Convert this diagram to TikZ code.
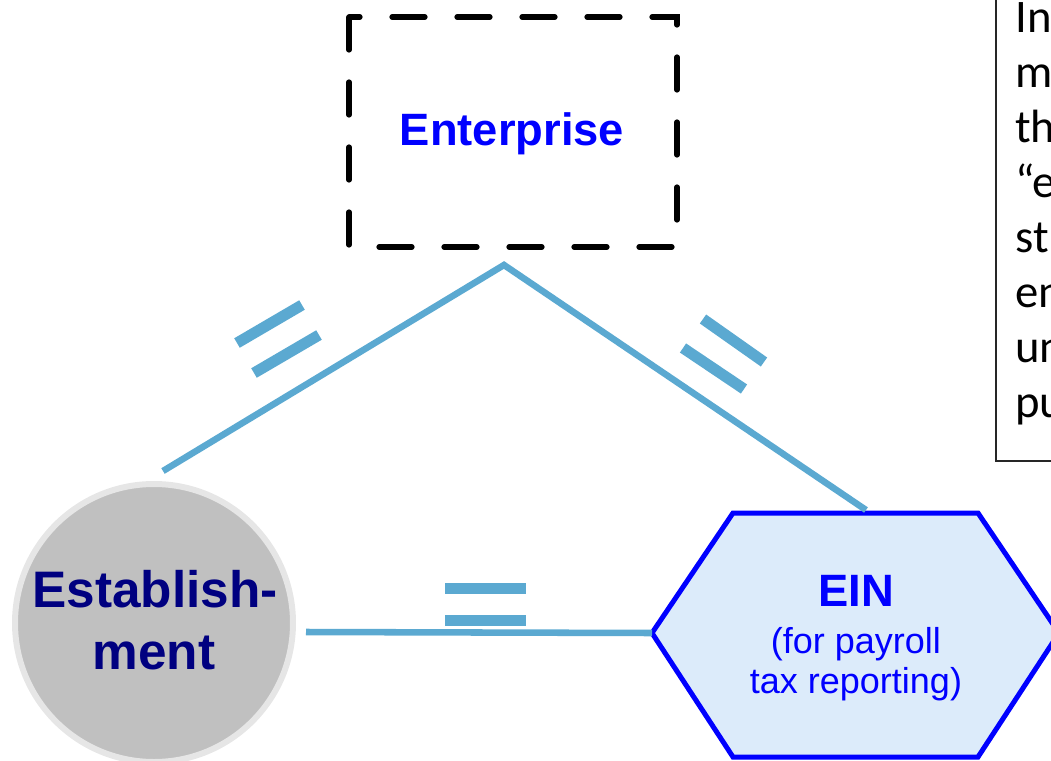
\documentclass[tikz,border=0pt]{standalone}
\usepackage{fontspec}
\setmainfont{Liberation Sans}
\newfontfamily\notefont{Carlito}
\definecolor{linkblue}{RGB}{91,169,209}
\definecolor{pureblue}{RGB}{0,0,255}
\definecolor{navyblue}{RGB}{0,0,128}
\definecolor{estgrey}{RGB}{192,192,192}
\definecolor{ringgrey}{RGB}{230,230,230}
\definecolor{hexfill}{RGB}{220,235,250}
\begin{document}
\begin{tikzpicture}[x=0.75pt,y=-0.75pt,
  link/.style={draw=linkblue, line width=4.9pt},
  eqbar/.style={draw=linkblue, line width=8.25pt},
  entbox/.style={draw=black, line width=3.9pt, line cap=round, dash pattern=on 24.75pt off 24pt},
  hexbox/.style={draw=pureblue, fill=hexfill, line width=3.75pt, line join=miter},
  notebox/.style={draw=black!85, line width=1.1pt},
  bigbold/.style={font=\bfseries\fontsize{34}{40}\selectfont, text=pureblue, anchor=base, inner sep=0},
  estlabel/.style={font=\bfseries\fontsize{38.5}{46}\selectfont, text=navyblue, anchor=base, inner sep=0},
  einsmall/.style={font=\fontsize{27}{32}\selectfont, text=pureblue, anchor=base, inner sep=0},
  noteline/.style={font=\notefont\fontsize{35}{42}\selectfont, text=black, anchor=base west, inner sep=0}
]
\useasboundingbox (0,0) rectangle (1051,761);

% Enterprise
\draw[entbox] (349,17) -- (349,247) -- (677,247) -- (677,17) -- cycle;
\node[bigbold] (ent) at (512,145) {Enterprise};

% Establishment circle
\node[circle, fill=estgrey, draw=ringgrey, line width=4.5pt, minimum size=208.5pt, inner sep=0] (est) at (154,623) {};
\node[estlabel] (est1) at (155,607) {Establish-};
\node[estlabel] (est2) at (154,669) {ment};

% EIN hexagon
\coordinate (hw) at (652,633);
\coordinate (hnw) at (733,513);
\coordinate (hne) at (978,513);
\coordinate (he) at (1059,633);
\coordinate (hse) at (978,757);
\coordinate (hsw) at (733,757);
\draw[hexbox] (hw) -- (hnw) -- (hne) -- (he) -- (hse) -- (hsw) -- cycle;
\node[bigbold] (ein) at (856,606) {EIN};
\node[einsmall] (ein2) at (856,653) {(for payroll};
\node[einsmall] (ein3) at (856,693) {tax reporting)};

% connectors
\coordinate (apex) at (504,265);
\coordinate (lend) at (163,471);
\coordinate (rend) at (866,510);
\coordinate (hstart) at (306,632);
\draw[link] (lend) -- (apex) -- (rend);
\draw[link] (hstart) -- (hw);

% equality marks
\draw[eqbar] (237,343) -- (302,305);
\draw[eqbar] (254,373) -- (319,335);
\draw[eqbar] (703,319) -- (764,362);
\draw[eqbar] (683,348) -- (744,389);
\draw[eqbar] (445,588.5) -- (526,588.5);
\draw[eqbar] (445,620) -- (526,620);

% note box (cut off at the right edge)
\draw[notebox] (996,-5) rectangle (1060,461);
\foreach \t [count=\i] in {In,m,th,“e,st,en,un,pu}
  \node[noteline] (note\i) at (1015,{32+55*(\i-1)}) {\t};
\end{tikzpicture}
\end{document}
